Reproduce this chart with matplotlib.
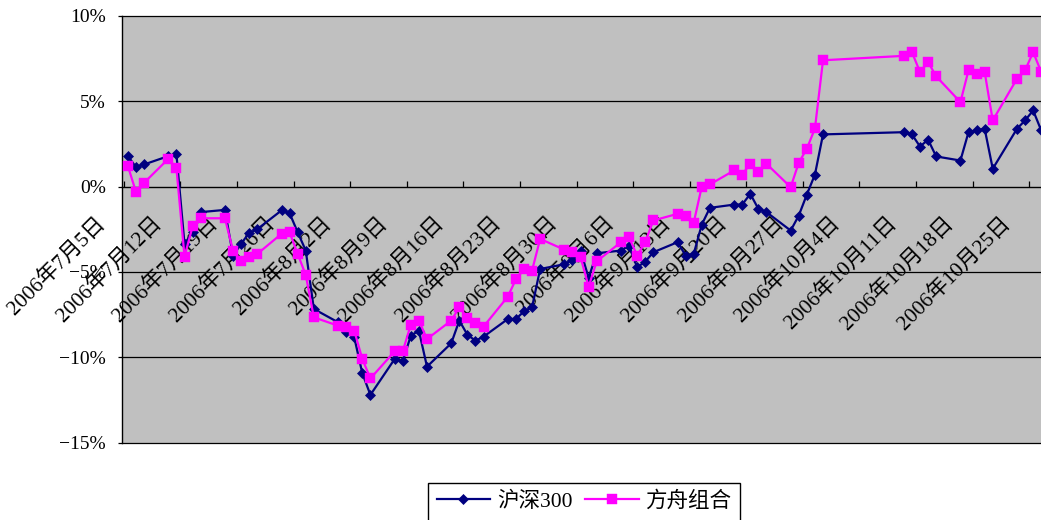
import numpy as np
import pandas as pd
import matplotlib
matplotlib.use('Agg')
import matplotlib.pyplot as plt
import matplotlib.dates as mdates
import matplotlib.transforms as mtransforms
from matplotlib.ticker import FuncFormatter

# serif digits, CJK glyphs fall back to Noto
plt.rcParams['font.family'] = ['Liberation Serif', 'Noto Sans CJK SC']
plt.rcParams['axes.unicode_minus'] = True

# trading days Jul 5 - Oct 26 2006, market closed for the National Day week
days = pd.bdate_range('2006-07-05', '2006-10-26')
days = days[(days < '2006-10-02') | (days > '2006-10-06')]

# cumulative return, %
hs300 = [
    1.78, 1.13, 1.29, 1.78, 1.88, -3.36, -2.68, -1.50, -1.37, -4.05,
    -3.36, -2.71, -2.50, -1.40, -1.56, -2.68, -3.75, -7.17, -7.95,
    -8.54, -8.83, -10.94, -12.20, -10.10, -10.24, -8.73, -8.44, -10.55,
    -9.18, -7.85, -8.68, -9.03, -8.79, -7.76, -7.76, -7.31, -7.07, -4.83,
    -4.55, -4.30, -3.75, -5.35,
    -3.91, -3.75, -3.46, -4.73, -4.40, -3.85, -3.26, -4.04, -3.95, -2.23,
    -1.25, -1.06, -1.06, -0.43, -1.31, -1.50, -2.58, -1.70, -0.47, 0.70,
    3.05,
    3.18, 3.05, 2.34, 2.74, 1.76, 1.52, 3.18, 3.28, 3.38, 1.04, 3.38,
    3.87, 4.45, 3.28,
]
fangzhou = [
    1.19, -0.33, 0.22, 1.62, 1.07, -4.10, -2.34, -1.86, -1.86, -3.75,
    -4.34, -4.15, -3.95, -2.77, -2.68, -3.95, -5.18, -7.66, -8.15,
    -8.25, -8.44, -10.10, -11.24, -9.65, -9.65, -8.09, -7.85, -8.93,
    -7.85, -7.07, -7.70, -8.00, -8.20, -6.45, -5.43, -4.83, -4.92, -3.07,
    -3.70, -3.85, -4.14, -5.86,
    -4.38, -3.26, -2.97, -4.05, -3.26, -1.99, -1.60, -1.70, -2.12, 0.00,
    0.12, 0.94, 0.70, 1.33, 0.84, 1.33, -0.04, 1.40, 2.21, 3.40,
    7.39,
    7.65, 7.87, 6.70, 7.29, 6.45, 4.94, 6.80, 6.60, 6.70, 3.87, 6.31,
    6.80, 7.87, 6.70,
]
series_names = ['沪深300', '方舟组合']

tick_days = pd.date_range('2006-07-05', '2006-10-25', freq='7D')
tick_labels = [f'{d.year}年{d.month}月{d.day}日' for d in tick_days]

x = mdates.date2num(days) + 0.5
start = mdates.date2num(pd.Timestamp('2006-07-05'))

fig = plt.figure(figsize=(10.41, 5.20), dpi=100)
ax = fig.add_axes([122 / 1041, 1 - 442.7 / 520, 919 / 1041, 427 / 520])
ax.set_facecolor('#C0C0C0')

ax.plot(x, hs300, color='#000080', lw=1.6, marker='D', ms=5.5,
        mec='#000080', mew=0.5, label=series_names[0], zorder=3)
ax.plot(x, fangzhou, color='#FF00FF', lw=1.6, marker='s', ms=7,
        mec='#FF00FF', mew=0.3, label=series_names[1], zorder=4)

ax.set_xlim(start - 0.235, start + 113.47)
ax.set_ylim(-15, 10)

for yv in [-15, -10, -5, 5, 10]:
    ax.axhline(yv, color='black', lw=0.9, clip_on=False, zorder=1)

for side in ['top', 'right']:
    ax.spines[side].set_visible(False)
ax.spines['left'].set_linewidth(1.0)
ax.spines['bottom'].set_position(('data', 0))
ax.spines['bottom'].set_linewidth(1.0)
ax.spines['bottom'].set_zorder(2)

ax.set_yticks([-15, -10, -5, 0, 5, 10])
ax.yaxis.set_major_formatter(FuncFormatter(lambda v, p: f'{v:.0f}%'.replace('-', '\u2212')))
ax.tick_params(axis='y', direction='out', length=3, width=0.9, pad=8.6,
               labelsize=14)

ax.set_xticks(mdates.date2num(tick_days))
ax.set_xticklabels(tick_labels)
ax.tick_params(axis='x', direction='in', length=4.3, width=0.9, pad=19,
               labelsize=15.5)
shift = mtransforms.ScaledTranslation(-15 / 100, 0, fig.dpi_scale_trans)
for lab in ax.get_xticklabels():
    lab.set_rotation(45)
    lab.set_ha('right')
    lab.set_va('top')
    lab.set_transform(lab.get_transform() + shift)

handles, labels = ax.get_legend_handles_labels()
leg = fig.legend(handles, labels, loc='upper center',
                 bbox_to_anchor=(584 / 1041, 1 - 482.7 / 520), ncol=2,
                 fancybox=False, edgecolor='black', framealpha=1,
                 handlelength=2.5, handletextpad=0.3, columnspacing=0.6,
                 borderpad=0.4, borderaxespad=0, fontsize=15.5)
leg.get_frame().set_linewidth(1.0)

fig.savefig('out.png', dpi=100, facecolor='white')
